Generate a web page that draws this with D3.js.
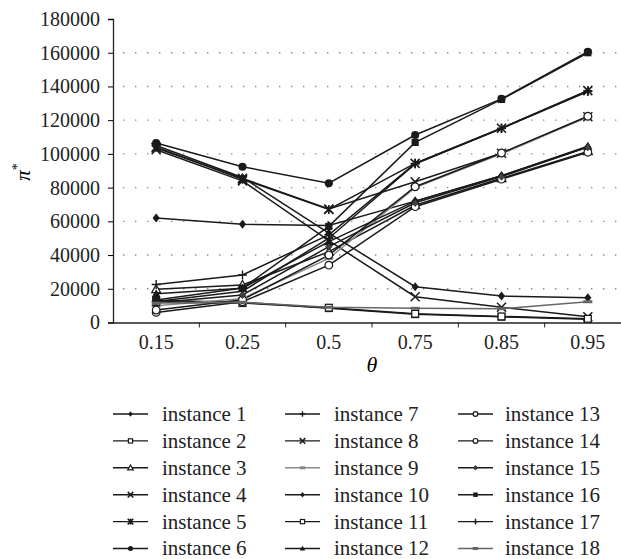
<!DOCTYPE html>
<html>
<head>
<meta charset="utf-8">
<script src="https://cdn.jsdelivr.net/npm/d3@7"></script>
<style>
  body { margin: 0; background: #fff; }
  svg text { font-family: "Liberation Serif", "DejaVu Serif", serif; }
</style>
</head>
<body>
<div id="chart"></div>
<script>
// categories on the x axis (theta)
const thetas = ["0.15", "0.25", "0.5", "0.75", "0.85", "0.95"];
const yTicks = [0, 20000, 40000, 60000, 80000, 100000, 120000, 140000, 160000, 180000];

// pi* per instance
const instance1  = [62000, 58200, 57500, 72000, 87000, 104000];
const instance2  = [13000, 12000, 8500, 4900, 3400, 2000];
const instance3  = [19700, 22200, 42000, 69500, 85500, 101500];
const instance4  = [103500, 85500, 67300, 83500, 100400, 122000];
const instance5  = [104000, 85000, 67000, 94400, 115200, 137500];
const instance6  = [106500, 92400, 82600, 111200, 132600, 160600];
const instance7  = [12500, 18500, 50000, 94000, 115000, 137000];
const instance8  = [102500, 84000, 48500, 15300, 9000, 3400];
const instance9  = [10000, 14300, 38000, 80000, 100000, 122000];
const instance10 = [105000, 86000, 53000, 21200, 15700, 14700];
const instance11 = [12000, 11500, 8800, 5200, 3600, 2200];
const instance12 = [17000, 20300, 48000, 72000, 87000, 104500];
const instance13 = [6000, 12300, 34000, 68700, 85000, 101000];
const instance14 = [7400, 13500, 40000, 80500, 100500, 122300];
const instance15 = [11700, 16300, 45000, 71000, 86500, 104000];
const instance16 = [13300, 20400, 57000, 106800, 132300, 160000];
const instance17 = [22500, 28200, 52000, 94400, 115200, 137500];
const instance18 = [11500, 12000, 9000, 8400, 8200, 12300];

const seriesNames = d3.range(1, 19).map(i => "instance " + i);
const seriesValues = [instance1, instance2, instance3, instance4, instance5, instance6,
  instance7, instance8, instance9, instance10, instance11, instance12,
  instance13, instance14, instance15, instance16, instance17, instance18];

// marker shape and line colour for each instance
const markers = ["diamond", "square", "triangle", "x", "asterisk", "circle",
  "plus", "x", "dash", "diamond", "square", "triangleFill",
  "ring", "ring", "diamondSmall", "squareFill", "plus", "dash"];
const colors = d3.range(18).map(i => i === 8 ? "#8a8a8a" : i === 17 ? "#666" : "#1a1a1a");

const serif = "'Liberation Serif', 'DejaVu Serif', serif";
const width = 621, height = 559;
const marginLeft = 113, marginTop = 19, plotBottom = 322.5, plotRight = 631;

const svg = d3.select("#chart").append("svg")
  .attr("width", width)
  .attr("height", height)
  .attr("font-family", serif);

const x = d3.scaleBand().domain(thetas).range([marginLeft, plotRight]);
const y = d3.scaleLinear().domain([0, 180000]).range([plotBottom, marginTop]);

// dotted grid
svg.append("g")
  .selectAll("line")
  .data(yTicks.filter(d => d > 0 && d < 180000))
  .join("line")
  .attr("x1", marginLeft + 10).attr("x2", width)
  .attr("y1", d => y(d)).attr("y2", d => y(d))
  .attr("stroke", "#888")
  .attr("stroke-width", 1.4)
  .attr("stroke-dasharray", "1.4,10.6");

// axes
const yAxis = svg.append("g")
  .attr("transform", `translate(${marginLeft},0)`)
  .call(d3.axisLeft(y).tickValues(yTicks).tickSize(5).tickPadding(8).tickFormat(d3.format("d")))
  .attr("font-family", serif);
yAxis.selectAll("text").attr("font-size", 20).attr("fill", "#222");

const xAxis = svg.append("g")
  .attr("transform", `translate(0,${plotBottom})`)
  .call(d3.axisBottom(x).tickSize(0).tickPadding(12))
  .attr("font-family", serif);
xAxis.selectAll("text").attr("font-size", 20).attr("fill", "#222");
xAxis.append("g").selectAll("line")
  .data(thetas)
  .join("line")
  .attr("x1", d => x(d) + x.bandwidth())
  .attr("x2", d => x(d) + x.bandwidth())
  .attr("y1", 0).attr("y2", 5)
  .attr("stroke", "#222");
svg.selectAll(".domain").attr("stroke", "#222").attr("stroke-width", 1.3);

// axis titles
svg.append("text")
  .attr("transform", `translate(30,172) rotate(-90)`)
  .attr("text-anchor", "middle")
  .attr("font-size", 21)
  .attr("font-style", "italic")
  .html('π<tspan dy="-8" font-size="14" font-style="normal">*</tspan>');

svg.append("text")
  .attr("x", 372).attr("y", 372)
  .attr("text-anchor", "middle")
  .attr("font-size", 22)
  .attr("font-style", "italic")
  .text("θ");

// marker drawing
function drawMarker(g, type, s, color) {
  const h = s;
  switch (type) {
    case "circle":
      g.append("circle").attr("r", h * 0.9).attr("fill", color); break;
    case "ring":
      g.append("circle").attr("r", h * 0.85).attr("fill", "#fff").attr("stroke", color).attr("stroke-width", 1.2); break;
    case "square":
      g.append("rect").attr("x", -h * 0.75).attr("y", -h * 0.75).attr("width", h * 1.5).attr("height", h * 1.5)
        .attr("fill", "#fff").attr("stroke", color).attr("stroke-width", 1.2); break;
    case "squareFill":
      g.append("rect").attr("x", -h * 0.8).attr("y", -h * 0.8).attr("width", h * 1.6).attr("height", h * 1.6)
        .attr("fill", color); break;
    case "triangle":
      g.append("path").attr("d", `M0,${-h}L${h},${h * 0.75}L${-h},${h * 0.75}Z`)
        .attr("fill", "#fff").attr("stroke", color).attr("stroke-width", 1.2); break;
    case "triangleFill":
      g.append("path").attr("d", `M0,${-h}L${h},${h * 0.75}L${-h},${h * 0.75}Z`).attr("fill", color); break;
    case "diamond":
      g.append("path").attr("d", `M0,${-h}L${h * 0.8},0L0,${h}L${-h * 0.8},0Z`).attr("fill", color); break;
    case "diamondSmall":
      g.append("path").attr("d", `M0,${-h * 0.8}L${h * 0.7},0L0,${h * 0.8}L${-h * 0.7},0Z`)
        .attr("fill", "#444").attr("stroke", color).attr("stroke-width", 0.8); break;
    case "x":
      g.append("path").attr("d", `M${-h},${-h}L${h},${h}M${-h},${h}L${h},${-h}`)
        .attr("stroke", color).attr("stroke-width", 1.5); break;
    case "asterisk":
      g.append("path").attr("d", `M${-h},${-h}L${h},${h}M${-h},${h}L${h},${-h}M0,${-h}L0,${h}`)
        .attr("stroke", color).attr("stroke-width", 1.6); break;
    case "plus":
      g.append("path").attr("d", `M0,${-h}L0,${h}M${-h},0L${h},0`)
        .attr("stroke", color).attr("stroke-width", 1.4); break;
    case "dash":
      g.append("path").attr("d", `M${-h},0L${h},0`)
        .attr("stroke", color).attr("stroke-width", 3); break;
  }
}

const cx = d => x(d) + x.bandwidth() / 2;
const line = d3.line().x(d => cx(d.theta)).y(d => y(d.value));

const plot = svg.append("g");
seriesValues.forEach((vals, i) => {
  const pts = thetas.map((t, j) => ({ theta: t, value: vals[j] }));
  plot.append("path")
    .datum(pts)
    .attr("fill", "none")
    .attr("stroke", colors[i])
    .attr("stroke-width", 1.5)
    .attr("d", line);
});
seriesValues.forEach((vals, i) => {
  thetas.forEach((t, j) => {
    const g = plot.append("g").attr("transform", `translate(${cx(t)},${y(vals[j])})`);
    drawMarker(g, markers[i], 4.5, colors[i]);
  });
});

// legend: 3 columns of 6
const legendCols = [{ lx: 113, tx: 162 }, { lx: 285, tx: 334 }, { lx: 458, tx: 505 }];
const legendTop = 414, legendStep = 26.9;
const legend = svg.append("g");
seriesNames.forEach((name, i) => {
  const col = legendCols[Math.floor(i / 6)];
  const ly = legendTop + (i % 6) * legendStep;
  legend.append("line")
    .attr("x1", col.lx).attr("x2", col.lx + 35)
    .attr("y1", ly).attr("y2", ly)
    .attr("stroke", colors[i]).attr("stroke-width", 1.4);
  const g = legend.append("g").attr("transform", `translate(${col.lx + 17.5},${ly})`);
  drawMarker(g, markers[i], 2.8, colors[i]);
  legend.append("text")
    .attr("x", col.tx).attr("y", ly)
    .attr("dy", "0.33em")
    .attr("font-size", 21)
    .attr("fill", "#222")
    .text(name);
});
</script>
</body>
</html>
